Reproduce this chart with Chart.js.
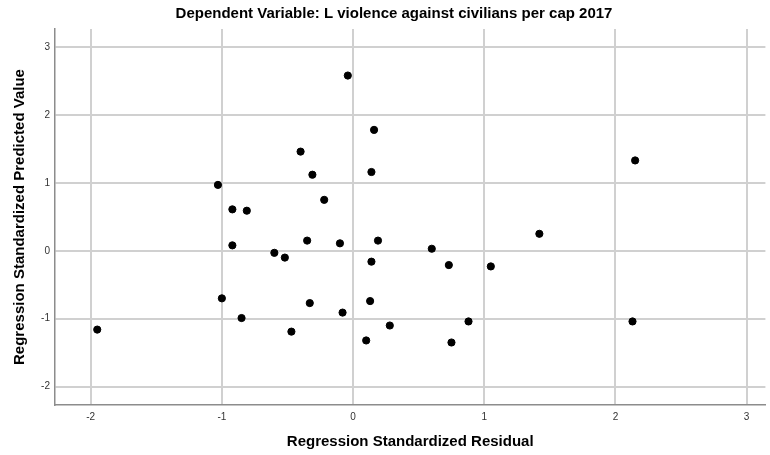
<!DOCTYPE html>
<html>
<head>
<meta charset="utf-8">
<script src="https://cdn.jsdelivr.net/npm/chart.js@4/dist/chart.umd.min.js"></script>
<style>
  html, body { margin: 0; padding: 0; background: #fff; }
  #wrap { width: 770px; height: 455px; }
</style>
</head>
<body>
<div id="wrap"><canvas id="residChart" width="770" height="455"></canvas></div>
<script>
// standardized residual (x) vs standardized predicted value (y)
const residuals = [
    -0.04, 0.16, -0.40, -0.31, 0.14, -1.03, -0.22, -0.92, -0.81, 2.15,
    -0.92, -0.60, -0.52, -0.35, -0.10, 0.19, 0.14, -1.00, -0.33, 0.13,
    -0.08, -0.85, -0.47, -1.95, 0.10, 1.42, 0.60, 0.73, 1.05, 0.28,
    0.88, 2.13, 0.75
];
const predicted = [
    2.58, 1.78, 1.46, 1.12, 1.16, 0.97, 0.75, 0.61, 0.59, 1.33,
    0.08, -0.03, -0.10, 0.15, 0.11, 0.15, -0.16, -0.70, -0.77, -0.74,
    -0.91, -0.99, -1.19, -1.16, -1.32, 0.25, 0.03, -0.21, -0.23, -1.10,
    -1.04, -1.04, -1.35
];
const xTicks = [-2, -1, 0, 1, 2, 3];
const yTicks = [-2, -1, 0, 1, 2, 3];

const points = residuals.map((r, i) => ({ x: r, y: predicted[i] }));

const gridColor = '#d0d0d0';
const axisColor = '#8c8c8c';
const tickColor = '#333';
const fontFam = 'Liberation Sans, Arial, sans-serif';

const ctx = document.getElementById('residChart').getContext('2d');
const chart = new Chart(ctx, {
    type: 'scatter',
    data: {
        datasets: [{
            label: 'cases',
            data: points,
            backgroundColor: '#000',
            borderColor: '#000',
            pointRadius: 3.6,
            pointHoverRadius: 3.6
        }]
    },
    options: {
        responsive: false,
        animation: false,
        events: [],
        // left padding shifts the title centre to where the reference has it
        layout: { padding: { left: 18, right: 0, top: 0, bottom: 0 } },
        plugins: {
            legend: { display: false },
            tooltip: { enabled: false },
            title: {
                display: true,
                text: 'Dependent Variable: L violence against civilians per cap 2017',
                color: '#000',
                font: { family: fontFam, size: 15, weight: 'bold' },
                padding: { top: 5, bottom: 6 }
            }
        },
        scales: {
            x: {
                type: 'linear',
                min: -2.272,
                max: 3.143,
                afterBuildTicks: s => { s.ticks = xTicks.map(v => ({ value: v })); },
                afterFit: s => { s.height = 50; },
                grid: { color: gridColor, lineWidth: 2, drawTicks: false },
                border: { display: true, color: axisColor, width: 1.5 },
                ticks: {
                    color: tickColor,
                    padding: 6,
                    font: { family: fontFam, size: 10 }
                },
                title: {
                    display: true,
                    text: 'Regression Standardized Residual',
                    color: '#000',
                    font: { family: fontFam, size: 15, weight: 'bold' },
                    padding: { top: 0, bottom: 4 }
                }
            },
            y: {
                type: 'linear',
                min: -2.27,
                max: 3.265,
                afterBuildTicks: s => { s.ticks = yTicks.map(v => ({ value: v })); },
                afterFit: s => { s.width = 37; },
                grid: { color: gridColor, lineWidth: 2, drawTicks: false },
                border: { display: true, color: axisColor, width: 1.5 },
                ticks: {
                    color: tickColor,
                    padding: 5,
                    font: { family: fontFam, size: 10 }
                },
                title: {
                    display: true,
                    text: 'Regression Standardized Predicted Value',
                    color: '#000',
                    font: { family: fontFam, size: 15, weight: 'bold' },
                    padding: { top: -7, bottom: 0 }
                }
            }
        }
    }
});
</script>
</body>
</html>
